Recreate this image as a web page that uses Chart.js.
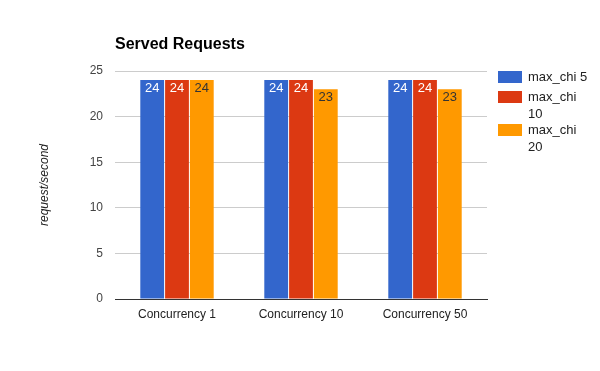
<!DOCTYPE html>
<html>
<head>
<meta charset="utf-8">
<script src="https://cdn.jsdelivr.net/npm/chart.js@4"></script>
<style>
  body { margin: 0; background: #fff; }
  #wrap { width: 600px; height: 371px; }
</style>
</head>
<body>
<div id="wrap"><canvas id="chart" width="600" height="371"></canvas></div>
<script>
const categories = ['Concurrency 1', 'Concurrency 10', 'Concurrency 50'];
const seriesNames = ['max_chi 5', 'max_chi 10', 'max_chi 20'];
const legendLines = [['max_chi 5'], ['max_chi', '10'], ['max_chi', '20']];
const chi5 = [24, 24, 24];
const chi10 = [24, 24, 24];
const chi20 = [24, 23, 23];
const colors = ['#3366cc', '#dc3912', '#ff9900'];
const labelColors = ['#ffffff', '#ffffff', '#333333'];
const FONT = "Arial, 'Liberation Sans', sans-serif";

/* value labels, title, axis title and legend */
const extras = {
    id: 'extras',
    afterDatasetsDraw(chart) {
        const ctx = chart.ctx;
        ctx.save();
        ctx.font = '13px ' + FONT;
        ctx.textAlign = 'center';
        ctx.textBaseline = 'top';
        chart.data.datasets.forEach(function (ds, i) {
            chart.getDatasetMeta(i).data.forEach(function (bar, j) {
                ctx.fillStyle = labelColors[i];
                ctx.fillText(String(ds.data[j]), bar.x, bar.y + 2);
            });
        });
        ctx.restore();
    },
    afterDraw(chart) {
        const ctx = chart.ctx;
        const area = chart.chartArea;
        ctx.save();
        // title
        ctx.fillStyle = '#000';
        ctx.font = 'bold 16px ' + FONT;
        ctx.textAlign = 'left';
        ctx.textBaseline = 'middle';
        ctx.fillText('Served Requests', area.left, 45);
        // y axis title
        ctx.save();
        ctx.translate(45, (area.top + area.bottom) / 2);
        ctx.rotate(-Math.PI / 2);
        ctx.font = 'italic 12px ' + FONT;
        ctx.fillStyle = '#222';
        ctx.textAlign = 'center';
        ctx.fillText('request/second', 0, 0);
        ctx.restore();
        // legend
        ctx.font = '13px ' + FONT;
        ctx.textBaseline = 'middle';
        let y = 77;
        legendLines.forEach(function (lines, i) {
            ctx.fillStyle = colors[i];
            ctx.fillRect(498, y - 6, 24, 12);
            ctx.fillStyle = '#222';
            lines.forEach(function (line, k) {
                ctx.fillText(line, 528, y + k * 17);
            });
            y += lines.length === 1 ? 20 : 33;
        });
        ctx.restore();
    }
};

new Chart(document.getElementById('chart'), {
    type: 'bar',
    data: {
        labels: categories,
        datasets: [chi5, chi10, chi20].map(function (d, i) {
            return {
                label: seriesNames[i],
                data: d,
                backgroundColor: colors[i],
                categoryPercentage: 0.6,
                barPercentage: 0.96
            };
        })
    },
    options: {
        responsive: false,
        animation: false,
        layout: { padding: { top: 71, right: 113, left: 0, bottom: 0 } },
        plugins: {
            legend: { display: false },
            tooltip: { enabled: false },
            title: { display: false }
        },
        scales: {
            x: {
                grid: { display: false, drawTicks: false },
                border: { color: '#333' },
                ticks: { color: '#222', font: { family: FONT, size: 12 }, padding: 8 },
                afterFit: function (s) { s.height = 72; }
            },
            y: {
                min: 0,
                max: 25,
                ticks: { stepSize: 5, color: '#444', font: { family: FONT, size: 12 }, padding: 12 },
                grid: {
                    drawTicks: false,
                    color: function (c) { return c.tick.value === 0 ? '#333' : '#ccc'; }
                },
                border: { display: false },
                afterFit: function (s) { s.width = 115; }
            }
        }
    },
    plugins: [extras]
});
</script>
</body>
</html>
